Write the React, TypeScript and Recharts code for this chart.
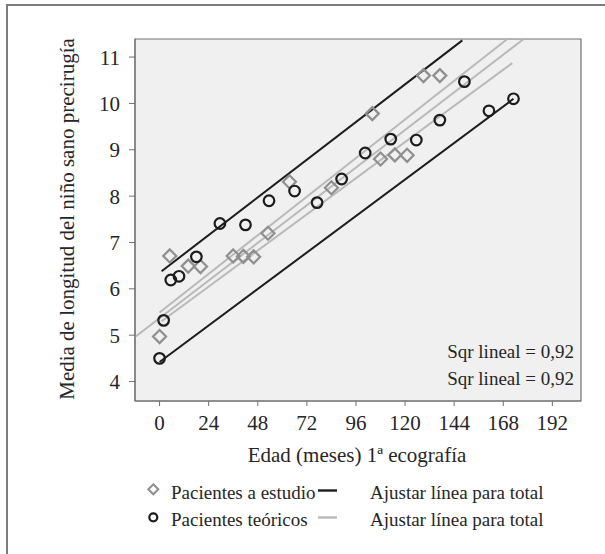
import React from 'react';
import {
  ComposedChart,
  Scatter,
  Line,
  XAxis,
  YAxis,
  CartesianGrid,
  ReferenceArea,
} from 'recharts';

// Pacientes a estudio (rombos grises)
const estudioMeses = [0, 5, 14, 20, 36, 41, 46, 53, 63.5, 84, 104, 108, 115, 121, 129, 137];
const estudioLongitud = [4.97, 6.71, 6.49, 6.48, 6.71, 6.7, 6.69, 7.2, 8.31, 8.18, 9.78, 8.8, 8.89, 8.88, 10.6, 10.6];

// Pacientes teóricos (círculos negros)
const teoricosMeses = [0, 2, 5.5, 9.5, 18, 29.5, 42, 53.5, 66, 77, 89, 100.5, 113, 125.5, 137, 149, 161, 173];
const teoricosLongitud = [4.5, 5.32, 6.19, 6.27, 6.69, 7.41, 7.38, 7.9, 8.11, 7.86, 8.37, 8.93, 9.23, 9.21, 9.64, 10.47, 9.84, 10.1];

// Líneas de ajuste: [x inicio, x fin], [y inicio, y fin]
const ajusteNegroSupX = [1, 148];
const ajusteNegroSupY = [6.38, 11.36];
const ajusteNegroInfX = [0, 173];
const ajusteNegroInfY = [4.42, 10.1];
const ajusteGrisAX = [-12, 178];
const ajusteGrisAY = [4.96, 11.39];
const ajusteGrisBX = [0, 170];
const ajusteGrisBY = [5.49, 11.39];
const ajusteGrisCX = [1, 172.4];
const ajusteGrisCY = [5.3, 10.87];

const xTicks = [0, 24, 48, 72, 96, 120, 144, 168, 192];
const yTicks = [4, 5, 6, 7, 8, 9, 10, 11];

const toPoints = (xs: number[], ys: number[]) => xs.map((x, i) => ({ x, y: ys[i] }));

const estudio = toPoints(estudioMeses, estudioLongitud);
const teoricos = toPoints(teoricosMeses, teoricosLongitud);

const fitLines = [
  { key: 'gA', data: toPoints(ajusteGrisAX, ajusteGrisAY), color: '#b9b9b9' },
  { key: 'gB', data: toPoints(ajusteGrisBX, ajusteGrisBY), color: '#b9b9b9' },
  { key: 'gC', data: toPoints(ajusteGrisCX, ajusteGrisCY), color: '#b9b9b9' },
  { key: 'bS', data: toPoints(ajusteNegroSupX, ajusteNegroSupY), color: '#1c1c1c' },
  { key: 'bI', data: toPoints(ajusteNegroInfX, ajusteNegroInfY), color: '#1c1c1c' },
];

const FONT = '"Liberation Serif", "Times New Roman", serif';
const TEXT = '#262626';

const Diamond = (props: any) => {
  const { cx, cy } = props;
  const s = 6.5;
  return (
    <path
      d={`M${cx},${cy - s} L${cx + s},${cy} L${cx},${cy + s} L${cx - s},${cy} Z`}
      fill="none"
      stroke="#8f8f8f"
      strokeWidth={2.2}
    />
  );
};

const Ring = (props: any) => {
  const { cx, cy } = props;
  return <circle cx={cx} cy={cy} r={5.3} fill="none" stroke="#1c1c1c" strokeWidth={2.2} />;
};

export default function App() {
  return (
    <div style={{ position: 'absolute', left: 0, top: 0, width: 605, height: 554, background: '#fff', fontFamily: FONT }}>
      {/* marco exterior (solo izquierda y arriba) */}
      <div
        style={{
          position: 'absolute',
          left: 6,
          top: 4,
          right: 0,
          bottom: 0,
          borderLeft: '2px solid #7c7c7c',
          borderTop: '2px solid #7c7c7c',
        }}
      />
      <ComposedChart width={605} height={554} margin={{ top: 39, right: 24, bottom: 123, left: 0 }}>
        <CartesianGrid horizontal={false} vertical={false} fill="#f0f0f0" />
        <XAxis
          type="number"
          dataKey="x"
          domain={[-12, 206]}
          ticks={xTicks}
          allowDataOverflow
          height={30}
          tickSize={5}
          tickMargin={9}
          axisLine={{ stroke: '#6f6f6f' }}
          tickLine={{ stroke: '#6f6f6f' }}
          tick={{ fill: TEXT, fontSize: 21, fontFamily: FONT }}
        />
        <YAxis
          type="number"
          dataKey="y"
          domain={[3.58, 11.39]}
          ticks={yTicks}
          allowDataOverflow
          width={135}
          tickSize={6}
          tickMargin={9}
          axisLine={{ stroke: '#6f6f6f' }}
          tickLine={{ stroke: '#6f6f6f' }}
          tick={{ fill: TEXT, fontSize: 21, fontFamily: FONT }}
        />
        <ReferenceArea x1={-12} x2={206} y1={3.58} y2={11.39} fill="none" fillOpacity={0} stroke="#6f6f6f" strokeWidth={1.2} />
        {fitLines.map((l) => (
          <Line
            key={l.key}
            data={l.data}
            dataKey="y"
            type="linear"
            stroke={l.color}
            strokeWidth={2}
            dot={false}
            activeDot={false}
            isAnimationActive={false}
            legendType="none"
          />
        ))}
        <Scatter data={estudio} dataKey="y" shape={Diamond} isAnimationActive={false} />
        <Scatter data={teoricos} dataKey="y" shape={Ring} isAnimationActive={false} />
      </ComposedChart>

      {/* título eje Y */}
      <div
        style={{
          position: 'absolute',
          left: 67,
          top: 219,
          transform: 'translate(-50%, -50%) rotate(-90deg)',
          whiteSpace: 'nowrap',
          fontSize: 21,
          color: TEXT,
        }}
      >
        Media de longitud del niño sano precirugía
      </div>

      {/* título eje X */}
      <div
        style={{
          position: 'absolute',
          left: 357,
          top: 455,
          transform: 'translate(-50%, -50%)',
          whiteSpace: 'nowrap',
          fontSize: 21,
          color: TEXT,
        }}
      >
        Edad (meses) 1ª ecografía
      </div>

      {/* R² */}
      <div
        style={{
          position: 'absolute',
          right: 605 - 574,
          top: 338,
          textAlign: 'right',
          fontSize: 19,
          lineHeight: '27px',
          color: TEXT,
          whiteSpace: 'nowrap',
        }}
      >
        <div>Sqr lineal = 0,92</div>
        <div>Sqr lineal = 0,92</div>
      </div>

      {/* leyenda */}
      <svg width={605} height={554} style={{ position: 'absolute', left: 0, top: 0, pointerEvents: 'none' }}>
        <path d="M153.3,484.3 L158.3,489.3 L153.3,494.3 L148.3,489.3 Z" fill="none" stroke="#8f8f8f" strokeWidth={2} />
        <circle cx={153.3} cy={517.3} r={4} fill="none" stroke="#1c1c1c" strokeWidth={2.2} />
        <line x1={318} y1={490.5} x2={337} y2={490.5} stroke="#1c1c1c" strokeWidth={2.4} />
        <line x1={318} y1={517.5} x2={337} y2={517.5} stroke="#b9b9b9" strokeWidth={2.4} />
      </svg>
      <div style={{ position: 'absolute', left: 171, top: 479, fontSize: 19, lineHeight: '27px', color: TEXT, whiteSpace: 'nowrap' }}>
        <div>Pacientes a estudio</div>
        <div>Pacientes teóricos</div>
      </div>
      <div style={{ position: 'absolute', left: 370, top: 479, fontSize: 19, lineHeight: '27px', color: TEXT, whiteSpace: 'nowrap' }}>
        <div>Ajustar línea para total</div>
        <div>Ajustar línea para total</div>
      </div>
    </div>
  );
}
